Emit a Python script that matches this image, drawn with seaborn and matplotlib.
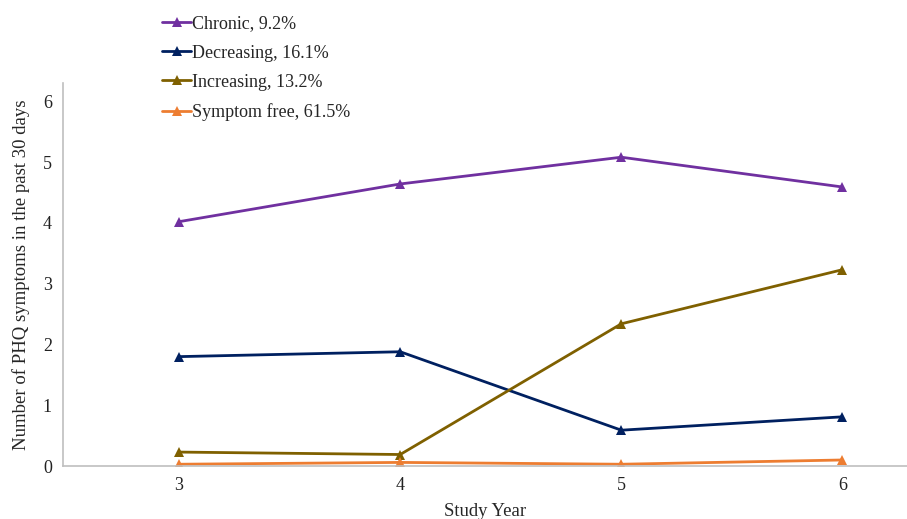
import matplotlib
matplotlib.use('Agg')
import matplotlib.pyplot as plt
import pandas as pd
import seaborn as sns

# data
years = [3, 4, 5, 6]
chronic = [4.02, 4.64, 5.08, 4.59]
decreasing = [1.80, 1.88, 0.59, 0.81]
increasing = [0.23, 0.19, 2.34, 3.23]
symptom_free = [0.03, 0.06, 0.03, 0.10]
groups = ['Chronic, 9.2%', 'Decreasing, 16.1%', 'Increasing, 13.2%', 'Symptom free, 61.5%']
colors = ['#7030A0', '#002060', '#7F6000', '#ED7D31']

rows = []
for name, vals in zip(groups, [chronic, decreasing, increasing, symptom_free]):
    for yr, v in zip(years, vals):
        rows.append((yr, v, name))
df = pd.DataFrame(rows, columns=['year', 'value', 'group'])

sns.set_style('white')
plt.rcParams['font.family'] = ['Liberation Serif', 'DejaVu Serif']

fig = plt.figure(figsize=(9.07, 5.19), dpi=100)
ax = fig.add_axes([0.0695, 0.102, 0.93, 0.738])

sns.lineplot(data=df, x='year', y='value', hue='group', hue_order=groups,
             palette=colors, marker='^', markersize=7.5, markeredgewidth=0,
             linewidth=2.0, ax=ax, legend=False)

ax.set_xlim(2.475, 6.29)
ax.set_ylim(0, 6.3)
ax.set_xticks(years)
ax.set_yticks(range(0, 7))
ax.tick_params(axis='both', length=0, labelsize=13, colors='#222222', pad=8)
ax.set_xlabel('Study Year', fontsize=13.5, labelpad=6)
ax.set_ylabel('Number of PHQ symptoms in the past 30 days', fontsize=13.5, labelpad=9)

for s in ['top', 'right']:
    ax.spines[s].set_visible(False)
for s in ['left', 'bottom']:
    ax.spines[s].set_color('#BFBFBF')
    ax.spines[s].set_linewidth(1.2)

# legend built from the drawn lines
handles = ax.get_lines()[:len(groups)]
fig.legend(handles, groups, loc='upper left', bbox_to_anchor=(0.165, 0.995),
           frameon=False, fontsize=13, handlelength=1.6, handletextpad=0.05,
           labelspacing=0.68, borderaxespad=0.3)

plt.savefig('out.png', dpi=100)
plt.close()
